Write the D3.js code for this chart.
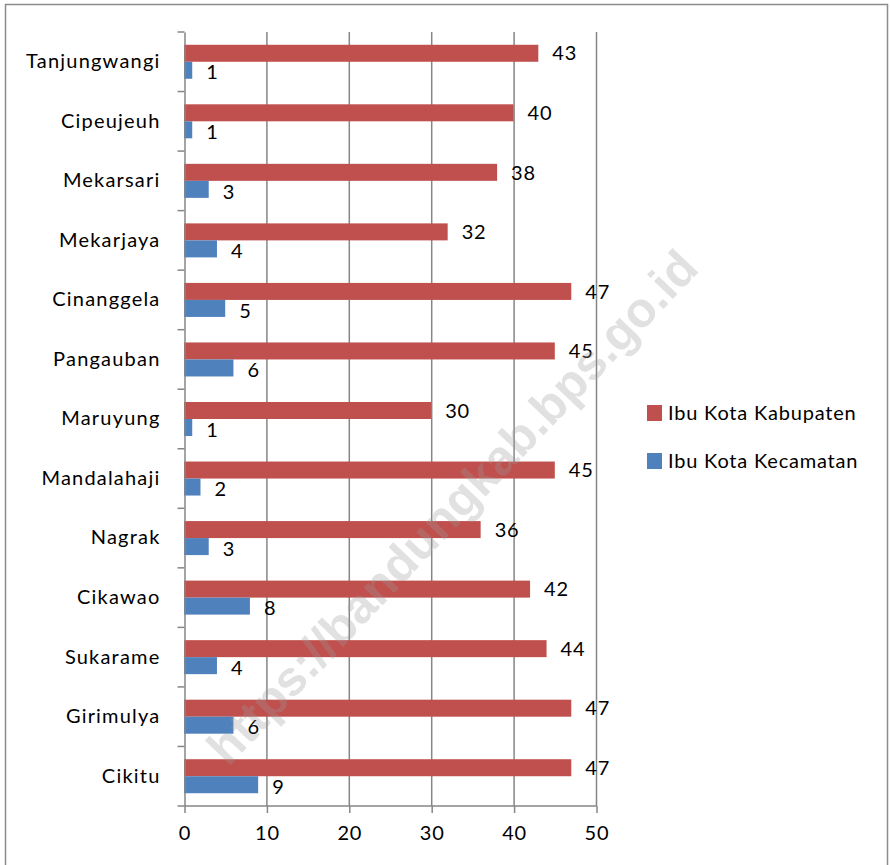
<!DOCTYPE html>
<html>
<head>
<meta charset="utf-8">
<script src="https://cdn.jsdelivr.net/npm/d3@7"></script>
<style>
  body { margin: 0; background: #fff; }
  svg { display: block; font-family: Lato, "Open Sans", sans-serif; }
</style>
</head>
<body>
<svg width="891" height="865"></svg>
<script>
// data, top to bottom
const villages = ["Tanjungwangi", "Cipeujeuh", "Mekarsari", "Mekarjaya", "Cinanggela", "Pangauban",
  "Maruyung", "Mandalahaji", "Nagrak", "Cikawao", "Sukarame", "Girimulya", "Cikitu"];
const kabupaten = [43, 40, 38, 32, 47, 45, 30, 45, 36, 42, 44, 47, 47];
const kecamatan = [1, 1, 3, 4, 5, 6, 1, 2, 3, 8, 4, 6, 9];
const seriesNames = ["Ibu Kota Kabupaten", "Ibu Kota Kecamatan"];
const colors = ["#C0504D", "#4F81BD"];
const xTicks = [0, 10, 20, 30, 40, 50];

const svg = d3.select('svg');

// chart frame
svg.append('rect')
  .attr('x', 5.5).attr('y', 4.5)
  .attr('width', 882).attr('height', 870)
  .attr('fill', 'none').attr('stroke', '#8c8c8c').attr('stroke-width', 1.5);

const plotL = 184, plotR = 596, plotT = 32, plotB = 806;

const x = d3.scaleLinear().domain([0, 50]).range([plotL, plotR]);
const y = d3.scaleBand().domain(villages).range([plotT, plotB]);
const sub = d3.scaleBand().domain([0, 1]).range([0, 34]);
const barOffset = (y.bandwidth() - 34) / 2;

// vertical gridlines
svg.append('g').selectAll('line')
  .data(xTicks.slice(1))
  .join('line')
  .attr('x1', d => x(d) + 0.5).attr('x2', d => x(d) + 0.5)
  .attr('y1', plotT).attr('y2', plotB)
  .attr('stroke', '#868686').attr('stroke-width', 1.5);

// bars
const rows = villages.map((v, i) => ({ name: v, vals: [kabupaten[i], kecamatan[i]] }));

const groups = svg.append('g').selectAll('g')
  .data(rows)
  .join('g')
  .attr('transform', d => `translate(0,${y(d.name) + barOffset})`);

groups.selectAll('rect')
  .data(d => d.vals.map((v, k) => ({ v, k })))
  .join('rect')
  .attr('x', x(0))
  .attr('y', d => sub(d.k))
  .attr('width', d => x(d.v) - x(0))
  .attr('height', sub.bandwidth())
  .attr('fill', d => colors[d.k]);

groups.selectAll('text')
  .data(d => d.vals.map((v, k) => ({ v, k })))
  .join('text')
  .attr('x', d => x(d.v) + 14)
  .attr('y', d => sub(d.k) + sub.bandwidth() / 2 + (d.k ? 2 : 0))
  .attr('dy', '0.36em')
  .attr('font-size', 20).attr('letter-spacing', 0.8)
  .attr('fill', '#000')
  .text(d => d.v);

// axes
const yAxis = d3.axisLeft(y).tickSize(0).tickPadding(24);
const gy = svg.append('g').attr('transform', `translate(${plotL + 0.5},0)`).call(yAxis);
gy.select('.domain').attr('stroke', '#868686').attr('stroke-width', 1.5);
gy.selectAll('text').attr('font-size', 20).attr('fill', '#000').attr('font-family', 'Lato, sans-serif')
  .attr('letter-spacing', 1.2);
// category boundary ticks
gy.selectAll('.sep')
  .data(villages.map(v => y(v)).concat([plotB]))
  .join('line')
  .attr('class', 'sep')
  .attr('x1', -7).attr('x2', 0)
  .attr('y1', d => d).attr('y2', d => d)
  .attr('stroke', '#868686').attr('stroke-width', 1.5);

const xAxis = d3.axisBottom(x).tickValues(xTicks).tickSize(7).tickPadding(13);
const gx = svg.append('g').attr('transform', `translate(0.5,${plotB})`).call(xAxis);
gx.select('.domain').attr('stroke', '#868686').attr('stroke-width', 1.5).attr('d', `M${plotL},0H${plotR}`);
gx.selectAll('.tick line').attr('stroke', '#868686').attr('stroke-width', 1.5);
gx.selectAll('text').attr('font-size', 20).attr('letter-spacing', 0.8).attr('fill', '#000')
  .attr('font-family', 'Lato, sans-serif');

// legend
const legend = svg.append('g').selectAll('g')
  .data(seriesNames)
  .join('g')
  .attr('transform', (d, i) => `translate(647,${405 + i * 48})`);
legend.append('rect').attr('width', 15).attr('height', 16).attr('fill', (d, i) => colors[i]);
legend.append('text')
  .attr('x', 21).attr('y', 8).attr('dy', '0.36em')
  .attr('font-size', 20).attr('letter-spacing', 0.8)
  .text(d => d);

// watermark
svg.append('text')
  .attr('transform', 'translate(452,507) rotate(-46.5)')
  .attr('text-anchor', 'middle').attr('dy', '0.35em')
  .attr('font-family', '"Liberation Sans", Arial, sans-serif')
  .attr('font-weight', 'bold').attr('font-size', 49)
  .attr('fill', '#9a9a9a').attr('fill-opacity', 0.3)
  .text('https://bandungkab.bps.go.id');
</script>
</body>
</html>
